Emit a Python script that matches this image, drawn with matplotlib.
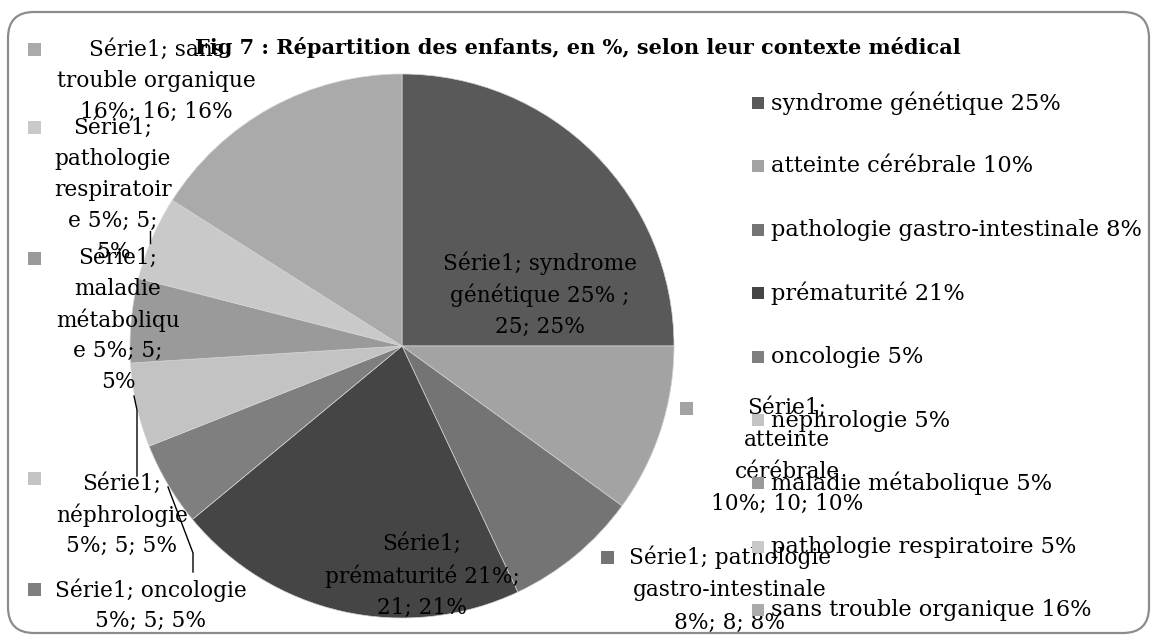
import matplotlib
matplotlib.use("Agg")
import matplotlib.pyplot as plt
from matplotlib.patches import FancyBboxPatch, Rectangle

# ---------------- data ----------------
categories = ["syndrome génétique 25% ", "atteinte cérébrale 10%",
              "pathologie gastro-intestinale 8%", "prématurité 21%",
              "oncologie 5%", "néphrologie 5%", "maladie métabolique 5%",
              "pathologie respiratoire 5%", "sans trouble organique 16%"]
values = [25, 10, 8, 21, 5, 5, 5, 5, 16]
colors = ["#595959", "#a3a3a3", "#747474", "#454545", "#7f7f7f",
          "#c3c3c3", "#9a9a9a", "#c9c9c9", "#aaaaaa"]
series_name = "Série1"
title = "Fig 7 : Répartition des enfants, en %, selon leur contexte médical"

# wrapped data-label text as displayed
data_labels = [
    "Série1; syndrome\ngénétique 25% ;\n25; 25%",
    "Série1;\natteinte\ncérébrale\n10%; 10; 10%",
    "Série1; pathologie\ngastro-intestinale\n8%; 8; 8%",
    "Série1;\nprématurité 21%;\n21; 21%",
    "Série1; oncologie\n5%; 5; 5%",
    "Série1;\nnéphrologie\n5%; 5; 5%",
    "Série1;\nmaladie\nmétaboliqu\ne 5%; 5;\n5%",
    "Série1;\npathologie\nrespiratoir\ne 5%; 5;\n5%",
    "Série1; sans\ntrouble organique\n16%; 16; 16%",
]

# ---------------- layout (image pixel coords) ----------------
W, H = 1156, 639
FONT = "DejaVu Serif"
FS = 15.6
FS_LEG = 16.2

def Y(y):
    return H - y

# label layout: (center x, first line y, line spacing, marker (x,y) or None)
label_layout = [
    (540, 263, 32, None),
    (787, 408, 32, (686, 408)),
    (730, 557, 33, (607, 557)),
    (422, 544, 32, None),
    (151, 590, 31, (34, 589)),
    (122, 484, 31, (34, 478)),
    (118, 258, 31, (34, 258)),
    (113, 128, 31, (34, 127)),
    (156, 50, 31, (34, 49)),
]

fig = plt.figure(figsize=(W / 100, H / 100), dpi=100)
ax = fig.add_axes([0, 0, 1, 1])
ax.set_xlim(0, W)
ax.set_ylim(0, H)
ax.set_aspect("equal")
ax.axis("off")

# border
border = FancyBboxPatch((8, Y(633)), 1141, 621,
                        boxstyle="round,pad=0,rounding_size=26",
                        fc="white", ec="#8c8c8c", lw=1.6, zorder=0)
ax.add_patch(border)

# pie
wedges, _ = ax.pie(values, colors=colors, startangle=90, counterclock=False,
                   center=(402, Y(346)), radius=272,
                   wedgeprops=dict(edgecolor="#d4d4d4", linewidth=0.5))
ax.set_xlim(0, W)
ax.set_ylim(0, H)
ax.axis("off")

# leader lines
leaders = [
    [(150, 231), (150, 243)],
    [(134, 396), (137, 410), (137, 476)],
    [(168, 487), (193, 553), (193, 572)],
]
for pts in leaders:
    ax.plot([p[0] for p in pts], [Y(p[1]) for p in pts], color="black",
            lw=1.0, zorder=3)

# data labels
for txt, (cx, y0, sp, mk), col in zip(data_labels, label_layout, colors):
    for i, line in enumerate(txt.split("\n")):
        ax.text(cx, Y(y0 + i * sp), line, ha="center", va="center",
                fontsize=FS, family=FONT, color="black", zorder=4)
    if mk is not None:
        s = 13
        ax.add_patch(Rectangle((mk[0] - s / 2, Y(mk[1]) - s / 2), s, s,
                               fc=col, ec="none", zorder=4))

# legend
leg_y0, leg_step = 103, 63.4
for i, (cat, col) in enumerate(zip(categories, colors)):
    yy = Y(leg_y0 + i * leg_step)
    s = 12
    ax.add_patch(Rectangle((752, yy - s / 2), s, s, fc=col, ec="none", zorder=5))
    ax.text(771, yy, cat.strip(), ha="left", va="center", fontsize=FS_LEG,
            family=FONT, color="black", zorder=5)

# title
ax.text(578, Y(48), title, ha="center", va="center", fontsize=15,
        family=FONT, fontweight="bold", color="black", zorder=6)

fig.savefig("out.png", dpi=100)
